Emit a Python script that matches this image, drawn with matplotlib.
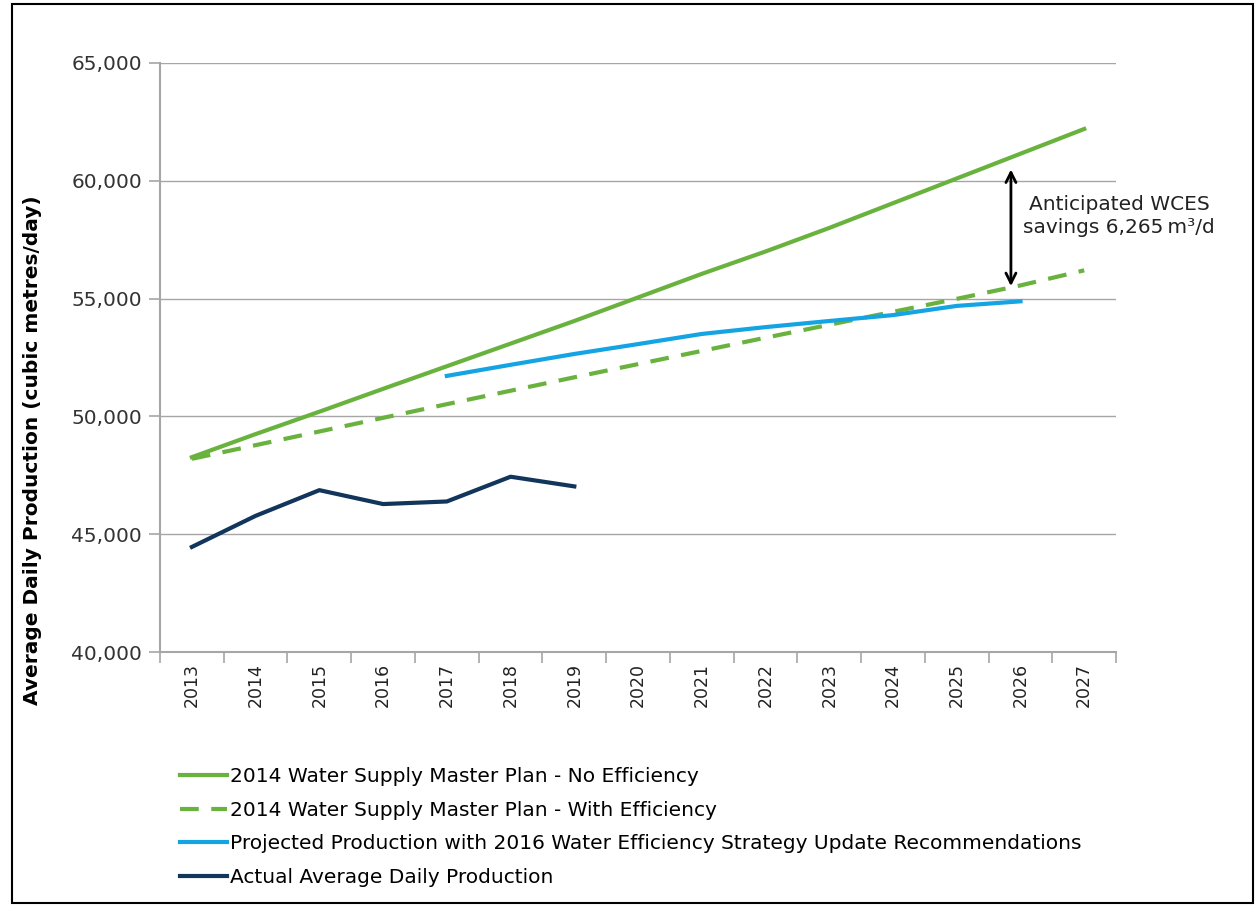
import numpy as np
import matplotlib
matplotlib.use('Agg')
import matplotlib.pyplot as plt
from matplotlib.patches import Rectangle

# --- Datos ---
years = [str(y) for y in range(2013, 2028)]
no_efficiency = [48270, 49250, 50200, 51170, 52130, 53090, 54050, 55050,
                 56050, 57000, 58000, 59050, 60100, 61150, 62200]
with_efficiency = [48200, 48780, 49360, 49940, 50520, 51090, 51660, 52220,
                   52780, 53340, 53890, 54440, 54990, 55560, 56200]
projected_years = years[4:14]  # 2017-2026
projected = [51720, 52190, 52650, 53070, 53500, 53790, 54050, 54300, 54690, 54885]
actual_years = years[:7]  # 2013-2019
actual = [44460, 45780, 46870, 46280, 46390, 47440, 47030]

GREEN = '#6AB23E'
BLUE = '#14A4E4'
NAVY = '#12355B'
GRID = '#A6A6A6'

plt.rcParams['font.family'] = ['DejaVu Sans']

fig = plt.figure(figsize=(12.58, 9.09), dpi=100)
ax = fig.add_axes([0.1272, 0.2827, 0.7600, 0.6480])

x_all = np.arange(len(years))
x_proj = np.array([years.index(y) for y in projected_years])
x_act = np.array([years.index(y) for y in actual_years])

l1, = ax.plot(x_all, no_efficiency, color=GREEN, lw=3,
              label='2014 Water Supply Master Plan - No Efficiency')
l2, = ax.plot(x_all, with_efficiency, color=GREEN, lw=3, dashes=(4.5, 3),
              label='2014 Water Supply Master Plan - With Efficiency')
l3, = ax.plot(x_proj, projected, color=BLUE, lw=3,
              label='Projected Production with 2016 Water Efficiency Strategy Update Recommendations')
l4, = ax.plot(x_act, actual, color=NAVY, lw=3,
              label='Actual Average Daily Production')

ax.set_xlim(-0.5, len(years) - 0.5)
ax.set_ylim(40000, 65000)
ax.set_yticks(np.arange(40000, 65001, 5000))
ax.set_yticklabels([f'{v:,}' for v in range(40000, 65001, 5000)], fontsize=14.5, color='#333333')
ax.set_xticks(x_all)
ax.set_xticklabels(years, rotation=90, fontsize=12.5, color='#222222')
ax.set_xticks(np.arange(-0.5, len(years), 1), minor=True)
ax.tick_params(axis='x', which='major', length=0, pad=8)
ax.tick_params(axis='x', which='minor', length=8, color=GRID, width=1.2)
ax.tick_params(axis='y', length=8, color=GRID, width=1.2, pad=5)

ax.grid(axis='y', color=GRID, lw=1)
ax.set_axisbelow(True)
for s in ['top', 'right']:
    ax.spines[s].set_visible(False)
for s in ['left', 'bottom']:
    ax.spines[s].set_color(GRID)
    ax.spines[s].set_linewidth(1.5)

ax.set_ylabel('Average Daily Production (cubic metres/day)', fontsize=14.5,
              fontweight='bold')
ax.yaxis.set_label_coords(-0.123, 0.343)

# Flecha de ahorro
i26 = years.index('2026')
ax.annotate('', xy=(i26 - 0.15, with_efficiency[i26] - 150), xytext=(i26 - 0.15, no_efficiency[i26] - 550),
            arrowprops=dict(arrowstyle='<->', color='black', lw=2, mutation_scale=18))
ax.text(i26 + 1.55, 58500, 'Anticipated WCES\nsavings 6,265\u2009m\u00b3/d', ha='center', va='center',
        fontsize=14.5, color='#222222', linespacing=1.3)

fig.legend(handles=[l1, l2, l3, l4], loc='upper left', bbox_to_anchor=(0.137, 0.165),
           frameon=False, fontsize=14.5, handlelength=2.3, handletextpad=0.15,
           labelspacing=0.72, borderaxespad=0)

fig.patches.append(Rectangle((12 / 1258, 1 - 903 / 909), 1241 / 1258, 899 / 909,
                             transform=fig.transFigure, fill=False, ec='black', lw=1.5))

fig.savefig('out.png', dpi=100)
